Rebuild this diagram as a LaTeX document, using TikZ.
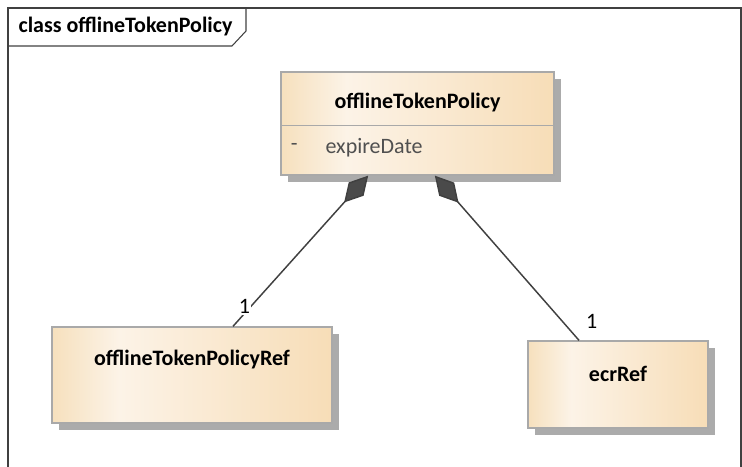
\documentclass[tikz,border=0pt]{standalone}
\usepackage{fontspec}
\setmainfont{Carlito}
\usetikzlibrary{arrows.meta,shadows}
\definecolor{clsEdge}{HTML}{F6E0BD}
\definecolor{clsLight}{HTML}{FCF3E7}
\definecolor{clsDeep}{HTML}{F7DDB7}
\definecolor{clsBorder}{HTML}{A9A9A9}
\definecolor{clsShadow}{HTML}{ABABAB}
\definecolor{linkGray}{HTML}{404040}
\definecolor{attrGray}{HTML}{505050}
% class boxes: light band near the left edge, warmer towards the right
\pgfdeclarehorizontalshading{classFill}{100bp}{color(0bp)=(clsEdge); color(25bp)=(clsEdge); color(37bp)=(clsLight); color(75bp)=(clsDeep); color(100bp)=(clsDeep)}
\newcommand{\umlfont}{\fontsize{16.5pt}{19pt}\selectfont}

\begin{document}
\begin{tikzpicture}[x=0.75pt, y=-0.75pt,
        classBox/.style={draw=clsBorder, line width=1pt, shading=classFill, inner sep=0pt,
            general shadow={fill=clsShadow, shadow xshift=5pt, shadow yshift=-5pt}},
        className/.style={font=\umlfont\bfseries, inner sep=0pt},
        attrText/.style={font=\umlfont, text=attrGray, inner sep=0pt},
        compLine/.style={draw=linkGray, line width=1.1pt, {Diamond[length=27pt, width=15pt, fill=linkGray!95]}-},
        multLabel/.style={font=\umlfont, fill=white, inner sep=1pt},
        frameLine/.style={draw=black!75, line width=0.8pt}
    ]
        \useasboundingbox (0,0) rectangle (742,467);

        % Diagram frame with its name tab
        \draw[frameLine] (8,467) -- (8,8) -- (741,8) -- (741,467);
        \draw[frameLine] (8,46) -- (232,46) -- (246,31) -- (246,8);
        \node[className] (frameTitle) at (125.5,27) {class offlineTokenPolicy};

        % Owning class
        \node[classBox, minimum width=204.75pt, minimum height=77.25pt] (policy) at (417.5,123.5) {};
        \node[className] (policyName) at ([yshift=-23.25pt]policy.north) {offlineTokenPolicy};
        \draw[draw=clsBorder, line width=1pt] ([yshift=-40.5pt]policy.north west) -- ([yshift=-40.5pt]policy.north east);
        \node[attrText] (policyVis) at ([xshift=10.5pt, yshift=-57pt]policy.north west) {-};
        \node[attrText, anchor=west] (policyAttr) at ([xshift=33.75pt, yshift=-57pt]policy.north west) {expireDate};

        % Parts
        \node[classBox, minimum width=210pt, minimum height=72pt] (tokenRef) at (192,375) {};
        \node[className] (tokenRefName) at ([yshift=-24.75pt]tokenRef.north) {offlineTokenPolicyRef};

        \node[classBox, minimum width=135pt, minimum height=65.25pt] (ecrRef) at (618,384.5) {};
        \node[className] (ecrRefName) at ([yshift=-25.5pt]ecrRef.north) {ecrRef};

        % Compositions
        \draw[compLine] ([xshift=-37pt]policy.south) -- node[multLabel, pos=0.87, xshift=-4.5pt] (tokenMult) {1} ([xshift=30.75pt]tokenRef.north);
        \draw[compLine] ([xshift=13pt]policy.south) -- (ecrRef.north -| 579,0) node[multLabel, pos=0.885, xshift=22pt] (ecrMult) {1};
    \end{tikzpicture}
\end{document}
